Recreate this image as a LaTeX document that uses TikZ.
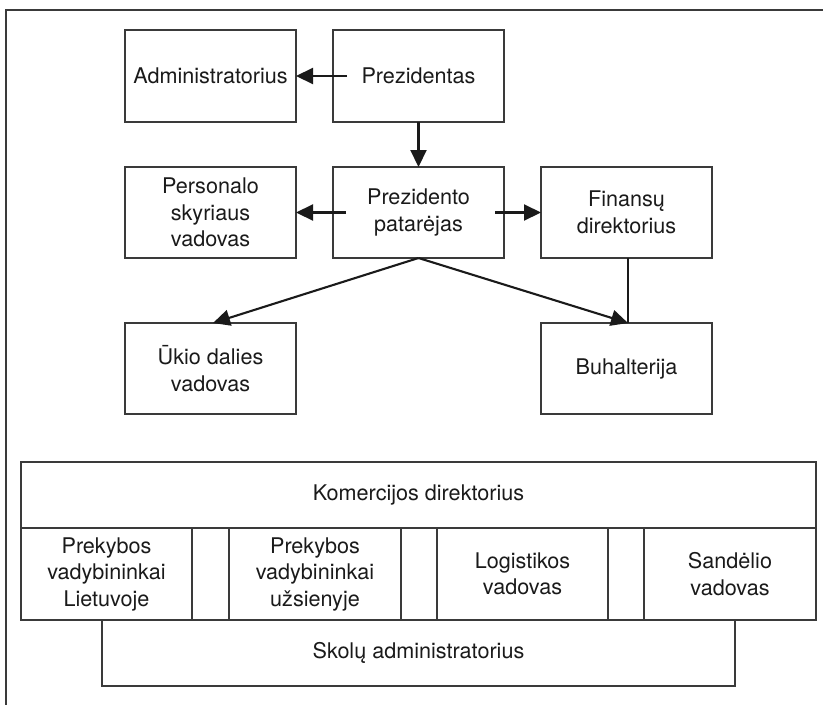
\documentclass[tikz,border=0pt]{standalone}
\usepackage{fontspec}
\setmainfont{TeX Gyre Heros}
\usetikzlibrary{arrows.meta}
\definecolor{ink}{HTML}{1A1A1A}
\definecolor{rule}{HTML}{3A3A3A}
\begin{document}
\begin{tikzpicture}[x=1pt,y=-1pt,
  font=\fontsize{21.6pt}{26.5pt}\selectfont,
  box/.style={draw=rule,line width=1.4pt,inner sep=0pt,outer sep=0pt,
    align=center,text=ink,minimum width=171pt,minimum height=91pt},
  wide/.style={box,minimum height=66pt},
  sub/.style={box,minimum width=171pt,minimum height=92pt},
  link/.style={draw=ink,line width=2.1pt},
  arr/.style={link,-{Triangle[length=17pt,width=16pt]}}]
\useasboundingbox (0,0) rectangle (823,705);

% page frame (top and left edges only)
\draw[rule,line width=1.4pt] (823,10) -- (6,10) -- (6,705);

% upper chart
\node[box,minimum height=92pt] (adm) at (210.5,76) {Administratorius};
\node[box,minimum height=92pt] (prez) at (418.5,76) {Prezidentas};
\node[box] (pers) at (210.5,212.5) {Personalo\\skyriaus\\vadovas};
\node[box] (pat) at (418.5,212.5) {Prezidento\\patarėjas};
\node[box] (fin) at (626.5,212.5) {Finansų\\direktorius};
\node[box] (ukio) at (210.5,368.5) {Ūkio dalies\\vadovas};
\node[box] (buh) at (626.5,368.5) {Buhalterija};

\coordinate (prezL) at ([xshift=14pt]prez.west);
\coordinate (patL) at ([xshift=13pt]pat.west);
\coordinate (patR) at ([xshift=-9pt]pat.east);
\coordinate (ukioT) at ([xshift=2.5pt]ukio.north);
\coordinate (buhT) at ([xshift=1.5pt]buh.north);
\coordinate (finB) at ([xshift=1.5pt]fin.south);

\draw[arr] (prezL) -- (adm.east);
\draw[arr] (prez.south) -- (pat.north);
\draw[arr] (patL) -- (pers.east);
\draw[arr] (patR) -- (fin.west);
\draw[arr] (pat.south) -- (ukioT);
\draw[arr] (pat.south) -- (buhT);
\draw[link] (finB) -- (buhT);

% commercial department
\node[wide,minimum width=795pt] (kom) at (418.5,495) {Komercijos direktorius};
\node[sub] (lt) at (106.5,574) {Prekybos\\vadybininkai\\Lietuvoje};
\node[sub,minimum width=172pt] (uz) at (315,574) {Prekybos\\vadybininkai\\užsienyje};
\node[sub] (log) at (522.5,574) {Logistikos\\vadovas};
\node[sub,minimum width=172pt] (snd) at (730,574) {Sandėlio\\vadovas};
\draw[rule,line width=1.4pt] (lt.south east) -- (snd.south west);
\node[wide,minimum width=633pt] (skol) at (418.5,653) {Skolų administratorius};
\end{tikzpicture}
\end{document}
